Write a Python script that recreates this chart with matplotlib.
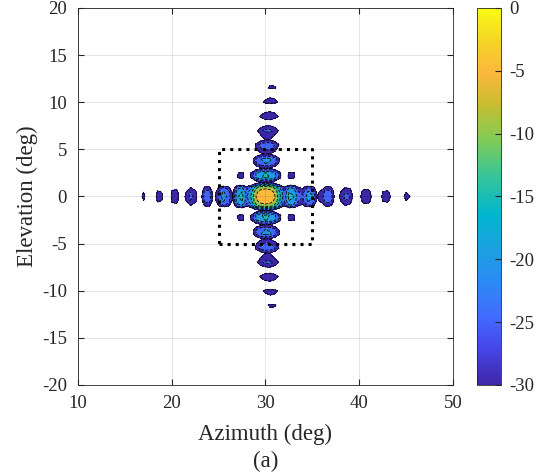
import numpy as np
import matplotlib
matplotlib.use('Agg')
import matplotlib.pyplot as plt
from matplotlib.colors import LinearSegmentedColormap, Normalize
from matplotlib.cm import ScalarMappable

plt.rcParams['font.family'] = ['Liberation Serif', 'DejaVu Serif']
plt.rcParams['axes.unicode_minus'] = False

# beam steering and array size
AZ_STEER = 30.0
EL_STEER = 0.0
N_AZ = 72
N_EL = 74
D_SPACING = 0.5          # element spacing in wavelengths
ROLLOFF_DB = 1.2         # extra loss of the far sidelobes ...
ROLLOFF_U = 0.2          # ... at this distance from the beam (sine space)
GRID_STEP = 0.5          # deg, sampling of the pattern

AZ_LIM = [10, 50]
EL_LIM = [-20, 20]
LEVELS = np.arange(-30, 1, 5)
CBAR_TICKS = [0, -5, -10, -15, -20, -25, -30]

# dotted region of interest
BOX_AZ = [25, 35]
BOX_EL = [-5, 5]

# approximate parula
parula_pts = [
    (0.00, (0.243, 0.150, 0.660)),
    (0.10, (0.275, 0.280, 0.920)),
    (0.18, (0.255, 0.420, 0.995)),
    (0.27, (0.170, 0.540, 0.960)),
    (0.35, (0.120, 0.620, 0.890)),
    (0.45, (0.000, 0.710, 0.810)),
    (0.55, (0.200, 0.770, 0.610)),
    (0.65, (0.500, 0.800, 0.340)),
    (0.75, (0.800, 0.740, 0.180)),
    (0.83, (0.990, 0.720, 0.240)),
    (0.92, (0.960, 0.840, 0.150)),
    (1.00, (0.977, 0.984, 0.081)),
]
parula = LinearSegmentedColormap.from_list('parula', parula_pts, N=256)


def array_factor_db(u, n):
    x = np.pi * D_SPACING * u
    den = n * np.sin(x)
    safe = np.where(np.abs(den) < 1e-12, 1.0, den)
    af = np.where(np.abs(den) < 1e-12, 1.0, np.sin(n * x) / safe)
    return 20 * np.log10(np.maximum(np.abs(af), 1e-6))


az = np.arange(AZ_LIM[0], AZ_LIM[1] + GRID_STEP / 2, GRID_STEP)
el = np.arange(EL_LIM[0], EL_LIM[1] + GRID_STEP / 2, GRID_STEP)
AZ, EL = np.meshgrid(az, el)
u = np.cos(np.radians(EL)) * np.sin(np.radians(AZ))
v = np.sin(np.radians(EL))
u0 = np.cos(np.radians(EL_STEER)) * np.sin(np.radians(AZ_STEER))
v0 = np.sin(np.radians(EL_STEER))
du, dv = u - u0, v - v0
P_db = array_factor_db(du, N_AZ) + array_factor_db(dv, N_EL)
P_db -= ROLLOFF_DB * (du ** 2 + dv ** 2) / ROLLOFF_U ** 2
P_db = P_db - P_db.max()

fig = plt.figure(figsize=(5.42, 4.74), dpi=100)
ax = fig.add_axes([0.1439, 0.1878, 0.6919, 0.7954])
cax = fig.add_axes([0.880, 0.1878, 0.0443, 0.7954])

norm = Normalize(-30, 0)
band_colors = [parula(norm(l)) for l in LEVELS[:-1]]
ax.contourf(AZ, EL, P_db, levels=LEVELS, colors=band_colors)
ax.contour(AZ, EL, P_db, levels=LEVELS, colors='k', linewidths=0.6)

ax.plot([BOX_AZ[0], BOX_AZ[1], BOX_AZ[1], BOX_AZ[0], BOX_AZ[0]],
        [BOX_EL[0], BOX_EL[0], BOX_EL[1], BOX_EL[1], BOX_EL[0]],
        'k:', linewidth=2.2)

ax.set_xlim(AZ_LIM)
ax.set_ylim(EL_LIM)
ax.set_xticks(np.arange(10, 51, 10))
ax.set_yticks(np.arange(-20, 21, 5))
ax.grid(True, color='k', alpha=0.12, linewidth=0.6)
ax.set_axisbelow(False)
ax.tick_params(direction='in', top=True, right=True, labelsize=13.5,
               colors='#262626', length=4)
ax.tick_params(axis='x', pad=7)
ax.tick_params(axis='y', pad=8)
for s in ax.spines.values():
    s.set_color('#262626')
    s.set_linewidth(0.6)
ax.set_xlabel('Azimuth (deg)', fontsize=16.5, color='#262626', labelpad=9)
ax.set_ylabel('Elevation (deg)', fontsize=16.5, color='#262626', labelpad=3)
fig.text(0.49, 0.014, '(a)', fontsize=16.5, color='#262626', ha='center')

sm = ScalarMappable(norm=norm, cmap=parula)
cb = fig.colorbar(sm, cax=cax, ticks=CBAR_TICKS)
cb.ax.tick_params(direction='in', labelsize=13.5, colors='#262626',
                  length=4, pad=6)
cb.outline.set_linewidth(0.6)
cb.outline.set_edgecolor('#262626')

fig.savefig('out.png', dpi=100)
